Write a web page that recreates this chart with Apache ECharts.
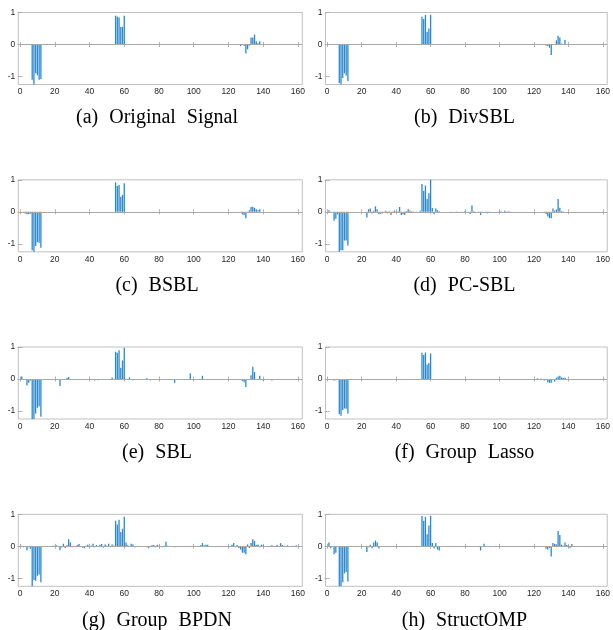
<!DOCTYPE html>
<html>
<head>
<meta charset="utf-8">
<script src="https://cdn.jsdelivr.net/npm/echarts@6/dist/echarts.min.js"></script>
<style>html,body{margin:0;padding:0;background:#fff;}#c{width:613px;height:630px;}</style>
</head>
<body>
<div id="c"></div>
<script>
// ---- data: [index, amplitude] of non-zero coefficients ----
const originalSignal = [[7,-1.1],[8,-1.3],[9,-0.9],[10,-0.96],[11,-1.1],[12,-1.08],
  [55,0.9],[56,0.87],[57,0.84],[58,0.55],[59,0.55],[60,0.9],
  [127,-0.05],[129,-0.04],[130,-0.28],[131,-0.15],[132,-0.04],[133,0.22],[134,0.22],[135,0.31],[136,0.1],[137,0.04],[138,0.1]];

const divSBL = [[7,-1.2],[8,-1.3],[9,-1.05],[10,-0.9],[11,-0.97],[12,-1.14],
  [55,0.87],[56,0.8],[57,0.92],[58,0.4],[59,0.5],[60,0.93],
  [127,-0.03],[128,-0.05],[129,-0.1],[130,-0.33],[133,0.13],[134,0.27],[135,0.22],[136,0.03],[138,0.14]];

const bsbl = [[2,-0.03],[3,-0.05],[4,-0.08],[5,-0.08],[6,-0.06],[7,-1.2],[8,-1.26],[9,-1.07],[10,-0.95],[11,-0.97],[12,-1.12],
  [55,0.92],[56,0.81],[57,0.84],[58,0.47],[59,0.53],[60,0.89],
  [127,-0.03],[128,-0.08],[129,-0.1],[130,-0.2],[131,-0.02],[132,0.05],[133,0.15],[134,0.16],[135,0.12],[136,0.08],[137,0.05],[138,0.08]];

const pcSBL = [[1,0.05],[2,-0.03],[4,-0.28],[5,-0.22],[6,-0.08],[7,-1.28],[8,-1.2],[9,-1.2],[10,-0.9],[11,-0.9],[12,-1.05],
  [23,-0.18],[24,0.08],[25,0.1],[26,-0.05],[27,0.03],[28,0.17],[29,0.08],[30,-0.08],[31,-0.06],[32,-0.05],[33,-0.03],[34,0.03],
  [35,-0.05],[36,0.02],[37,-0.1],[38,-0.03],[39,0.04],[40,0.02],[41,0.02],[42,0.15],[43,-0.1],[44,-0.08],[45,-0.1],[46,0.02],
  [47,0.08],[48,0.04],[49,0.02],[50,0.01],[52,0.01],[54,0.03],
  [55,0.87],[56,0.65],[57,0.82],[58,0.4],[59,0.58],[60,1.1],
  [61,0.12],[62,-0.08],[63,0.1],[64,0.05],[65,0.02],[72,-0.02],[75,0.01],[78,-0.02],[80,0.03],[82,-0.03],[83,-0.07],[84,0.2],
  [85,0.02],[86,-0.03],[88,0.01],[89,-0.1],[90,-0.04],[92,0.01],[93,-0.05],[94,-0.03],[100,0.02],[101,0.02],[103,0.03],[104,-0.02],
  [105,0.02],[106,0.01],
  [126,-0.02],[127,-0.07],[128,-0.15],[129,-0.2],[130,-0.2],[131,0.1],[132,0.03],[133,0.07],[134,0.4],[135,0.13],[136,0.02],[137,0.01]];

const sbl = [[1,0.08],[4,-0.2],[5,-0.12],[6,-0.05],[7,-1.28],[8,-1.28],[9,-1.08],[10,-0.9],[11,-0.85],[12,-1.18],
  [23,-0.22],[27,0.04],[28,0.06],[33,-0.02],[43,-0.05],[45,-0.04],[53,0.05],
  [55,0.85],[56,0.82],[57,0.9],[58,0.35],[59,0.58],[60,0.98],
  [63,0.05],[65,-0.04],[73,0.02],[75,-0.04],[89,-0.12],[98,0.18],[105,0.1],
  [128,-0.06],[129,-0.1],[130,-0.25],[133,0.12],[134,0.38],[135,0.22],[138,0.1],[140,-0.05],[145,-0.05],[154,-0.03]];

const groupLasso = [[4,-0.05],[5,-0.04],[6,-0.03],[7,-1.1],[8,-1.15],[9,-0.97],[10,-0.92],[11,-0.93],[12,-1.08],[32,-0.01],
  [55,0.82],[56,0.75],[57,0.83],[58,0.45],[59,0.5],[60,0.8],
  [121,-0.03],[122,0.02],[123,-0.02],[124,0.01],[125,-0.03],[126,-0.05],[127,-0.03],[128,-0.1],[129,-0.12],[130,-0.12],
  [131,-0.03],[132,-0.08],[133,0.04],[134,0.08],[135,0.1],[136,0.05],[137,0.03],[138,0.04]];

const groupBPDN = [[1,0.02],[2,-0.03],[3,-0.02],[4,-0.12],[5,-0.03],[6,-0.08],[7,-1.28],[8,-1.05],[9,-1.08],[10,-0.92],[11,-0.88],[12,-1.12],
  [19,0.02],[20,0.02],[21,0.03],[23,-0.12],[24,-0.04],[25,0.08],[26,-0.05],[27,0.03],[28,0.22],[29,0.12],[30,-0.03],[31,0.02],
  [32,-0.02],[33,0.04],[34,0.07],[35,-0.02],[36,-0.04],[37,-0.06],[38,0.02],[39,0.05],[40,-0.03],[41,0.02],[42,0.08],[43,-0.03],
  [44,0.04],[45,-0.02],[46,0.05],[47,0.07],[48,-0.04],[49,0.06],[50,0.02],[51,0.08],[52,-0.03],[53,0.06],[54,0.02],
  [55,0.8],[56,0.68],[57,0.83],[58,0.45],[59,0.55],[60,0.92],
  [61,0.12],[62,0.03],[63,-0.02],[64,0.08],[65,0.06],[66,-0.03],[73,-0.03],[74,-0.06],[75,0.02],[76,0.03],[77,0.04],[78,-0.03],
  [79,0.05],[80,0.02],[82,-0.03],[83,0.02],[84,0.14],[85,0.02],[89,-0.03],[90,0.01],[95,0.01],[100,-0.01],[104,0.03],[105,0.1],
  [106,0.03],[107,0.05],[108,0.05],[110,-0.01],[120,0.01],[122,0.05],[123,0.1],[124,-0.03],[125,0.04],[126,-0.05],[127,-0.1],
  [128,-0.2],[129,-0.2],[130,-0.25],[131,0.06],[132,-0.05],[133,0.1],[134,0.22],[135,0.17],[136,0.04],[137,0.06],[138,-0.03],
  [139,0.05],[140,0.03],[143,-0.02],[145,0.03],[146,-0.01],[148,0.04],[150,0.1],[151,0.04],[152,0.02],[154,0.03],[155,-0.02],
  [157,0.02],[159,0.03],[161,0.01]];

const structOMP = [[1,0.12],[2,-0.06],[3,-0.02],[4,-0.25],[5,-0.2],[7,-1.28],[8,-1.28],[9,-1.12],[10,-0.85],[11,-0.8],[12,-1.1],
  [23,-0.18],[24,-0.03],[25,0.05],[26,-0.06],[27,0.12],[28,0.18],[29,0.12],[30,-0.07],
  [55,0.95],[56,0.8],[57,0.92],[58,0.38],[59,0.65],[60,0.95],
  [61,0.1],[62,-0.06],[63,0.1],[64,-0.1],[65,-0.13],[89,-0.13],[91,0.08],
  [127,-0.08],[128,-0.1],[129,-0.05],[130,-0.32],[131,0.1],[132,0.07],[133,0.06],[134,0.48],[135,0.35],[136,0.05],[137,0.02],
  [138,0.12],[139,0.04],[140,0.03],[141,-0.05],[142,0.07]];

const captions = ['(a) Original Signal','(b) DivSBL','(c) BSBL','(d) PC-SBL','(e) SBL','(f) Group Lasso','(g) Group BPDN','(h) StructOMP'];
const xTicks = [0,20,40,60,80,100,120,140,160];
const yTicks = [-1,0,1];
const signals = [originalSignal, divSBL, bsbl, pcSBL, sbl, groupLasso, groupBPDN, structOMP];

// ---- layout ----
const colLeft = [18.3, 325.5];
const rowTop = [12.5, 179.8, 347, 514.3];
const W = 284, H = 72;
const capX = [157, 464.5];
const capY = [118, 285.5, 452.5, 621];
const boxColor = '#c0c0c0';
const tickColor = '#b0b0b0';
const labelStyle = {fontSize: 8.5, color: '#262626', fontFamily: 'Liberation Sans, Arial, sans-serif'};

const grids = [], xAxes = [], yAxes = [], series = [], graphics = [];
signals.forEach((data, k) => {
  const col = k % 2, row = Math.floor(k / 2);
  grids.push({left: colLeft[col], top: rowTop[row], width: W, height: H, show: true,
    borderColor: boxColor, borderWidth: 1, backgroundColor: 'transparent'});
  const xBase = {gridIndex: k, type: 'value', min: -1, max: 162.5, splitLine: {show: false},
    axisLine: {show: false}};
  xAxes.push(Object.assign({}, xBase, {position: 'bottom',
    axisTick: {show: true, inside: true, length: 2.5, customValues: xTicks, lineStyle: {color: tickColor}},
    axisLabel: Object.assign({show: true, customValues: xTicks, margin: 3}, labelStyle)}));
  xAxes.push(Object.assign({}, xBase, {position: 'top',
    axisTick: {show: true, inside: true, length: 2.5, customValues: xTicks, lineStyle: {color: tickColor}},
    axisLabel: {show: false}}));
  const yBase = {gridIndex: k, type: 'value', min: -1.25, max: 1, splitLine: {show: false},
    axisLine: {show: false}};
  yAxes.push(Object.assign({}, yBase, {position: 'left',
    axisTick: {show: true, inside: true, length: 2.5, customValues: yTicks, lineStyle: {color: tickColor}},
    axisLabel: Object.assign({show: true, customValues: yTicks, margin: 3}, labelStyle)}));
  yAxes.push(Object.assign({}, yBase, {position: 'right',
    axisTick: {show: true, inside: true, length: 2.5, customValues: yTicks, lineStyle: {color: tickColor}},
    axisLabel: {show: false}}));
  series.push({type: 'bar', xAxisIndex: 2 * k, yAxisIndex: 2 * k, data: data, barWidth: 1.3,
    clip: true, animation: false, itemStyle: {color: '#2a88d0'},
    markLine: {silent: true, symbol: 'none', animation: false, label: {show: false},
      lineStyle: {color: '#a8a8a8', width: 1, type: 'solid'}, data: [{yAxis: 0}]}});
  const words = captions[k].split(' ');
  graphics.push({type: 'text', x: capX[col], y: capY[row], silent: true,
    style: {text: words.map(w => '{w|' + w + '}').join('{sp| }'),
      rich: {w: {fontFamily: 'Liberation Serif, Times New Roman, serif', fontSize: 20, fill: '#000', color: '#000'},
             sp: {width: 11, fontSize: 20}},
      font: '20px Liberation Serif', fill: '#000',
      textAlign: 'center', textVerticalAlign: 'middle', align: 'center', verticalAlign: 'middle'}});
});

const chart = echarts.init(document.getElementById('c'), null, {renderer: 'canvas'});
chart.setOption({animation: false, grid: grids, xAxis: xAxes, yAxis: yAxes, series: series, graphic: graphics});
</script>
</body>
</html>
